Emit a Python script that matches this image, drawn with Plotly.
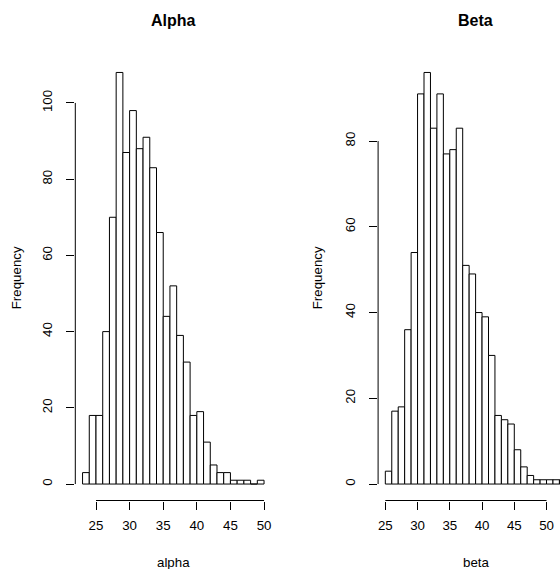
import plotly.graph_objects as go

# ---- data ----
alpha_bin_starts = list(range(23, 50))
alpha_counts = [3, 18, 18, 40, 70, 108, 87, 98, 88, 91, 83, 66, 44, 52, 39, 32,
                18, 19, 11, 5, 3, 3, 1, 1, 1, 0, 1]
beta_bin_starts = list(range(25, 53))
beta_counts = [3, 17, 18, 36, 54, 91, 96, 83, 91, 77, 78, 83, 51, 49, 40, 39,
               30, 16, 15, 14, 8, 4, 2, 1, 1, 1, 1, 1]
x_ticks = [25, 30, 35, 40, 45, 50]
alpha_y_ticks = [0, 20, 40, 60, 80, 100]
beta_y_ticks = [0, 20, 40, 60, 80]

W, H = 560, 569
FONT = "Liberation Sans, Arial, Helvetica, sans-serif"


def rpad(lo, hi):
    d = (hi - lo) * 0.04
    return lo - d, hi + d


fig = go.Figure()

# left panel
a_lo, a_hi = rpad(alpha_bin_starts[0], alpha_bin_starts[-1] + 1)
fig.add_trace(go.Bar(
    x=[b + 0.5 for b in alpha_bin_starts], y=alpha_counts, width=1,
    marker=dict(color="white", line=dict(color="black", width=1)),
    xaxis="x", yaxis="y", showlegend=False, hoverinfo="x+y"))

# right panel
b_lo, b_hi = rpad(beta_bin_starts[0], beta_bin_starts[-1] + 1)
fig.add_trace(go.Bar(
    x=[b + 0.5 for b in beta_bin_starts], y=beta_counts, width=1,
    marker=dict(color="white", line=dict(color="black", width=1)),
    xaxis="x2", yaxis="y2", showlegend=False, hoverinfo="x+y"))

# pixel geometry of plot regions
L_x0, L_x1 = 75.3, 271.3
R_x0, R_x1_full = 378.1, 573.1
top_px, bot_px = 56.0, 500.5
ydom = [(H - bot_px) / H, (H - top_px) / H]

ppu_r = (R_x1_full - R_x0) / (b_hi - b_lo)
b_hi_vis = b_lo + (W - R_x0) / ppu_r

ay_lo, ay_hi = rpad(0, max(alpha_counts))
by_lo, by_hi = rpad(0, max(beta_counts))

tickfont = dict(family=FONT, size=13.3, color="black")
common_x = dict(showgrid=False, zeroline=False, showline=False, ticks="outside",
                ticklen=8, tickwidth=1, tickcolor="black", tickvals=x_ticks,
                tickfont=tickfont, automargin=False, fixedrange=True,
                ticklabelstandoff=5)
common_y = dict(showgrid=False, zeroline=False, showline=False, ticks="outside",
                ticklen=8, tickwidth=1, tickcolor="black", tickangle=-90,
                tickfont=tickfont, automargin=False, fixedrange=True,
                ticklabelstandoff=9)

fig.update_layout(
    width=W, height=H,
    margin=dict(l=0, r=0, t=0, b=0),
    paper_bgcolor="white", plot_bgcolor="white",
    bargap=0,
    font=dict(family=FONT, color="black"),
    xaxis=dict(domain=[L_x0 / W, L_x1 / W], range=[a_lo, a_hi], anchor="y", **common_x),
    yaxis=dict(domain=ydom, range=[ay_lo, ay_hi], anchor="x", tickvals=alpha_y_ticks, **common_y),
    xaxis2=dict(domain=[R_x0 / W, 1.0], range=[b_lo, b_hi_vis], anchor="y2", **common_x),
    yaxis2=dict(domain=ydom, range=[by_lo, by_hi], anchor="x2", tickvals=beta_y_ticks, **common_y),
    showlegend=False,
)

line = dict(color="black", width=1)
shapes = [
    dict(type="line", xref="x", yref="y domain", x0=x_ticks[0], x1=x_ticks[-1], y0=0, y1=0, line=line),
    dict(type="line", xref="x domain", yref="y", x0=0, x1=0, y0=alpha_y_ticks[0], y1=alpha_y_ticks[-1], line=line),
    dict(type="line", xref="x2", yref="y2 domain", x0=x_ticks[0], x1=x_ticks[-1], y0=0, y1=0, line=line),
    dict(type="line", xref="x2 domain", yref="y2", x0=0, x1=0, y0=beta_y_ticks[0], y1=beta_y_ticks[-1], line=line),
]
fig.update_layout(shapes=shapes)

lab = dict(family=FONT, size=13.3, color="black")
ttl = dict(family=FONT, size=16, color="black")
L_c = (L_x0 + L_x1) / 2 / W
R_c = (R_x0 + R_x1_full) / 2 / W
annots = [
    dict(text="<b>Alpha</b>", x=L_c, y=(H - 21) / H, font=ttl),
    dict(text="<b>Beta</b>", x=R_c, y=(H - 21) / H, font=ttl),
    dict(text="alpha", x=L_c, y=(H - 562) / H, font=lab),
    dict(text="beta", x=R_c, y=(H - 562) / H, font=lab),
    dict(text="Frequency", x=16 / W, y=(H - (top_px + bot_px) / 2) / H, font=lab, textangle=-90),
    dict(text="Frequency", x=317 / W, y=(H - (top_px + bot_px) / 2) / H, font=lab, textangle=-90),
]
for a in annots:
    a.update(xref="paper", yref="paper", xanchor="center", yanchor="middle", showarrow=False)
fig.update_layout(annotations=annots)

fig.write_html("out.html",
               config={"displayModeBar": False, "staticPlot": True},
               post_script="document.body.style.margin='0';document.body.style.overflow='hidden';")
